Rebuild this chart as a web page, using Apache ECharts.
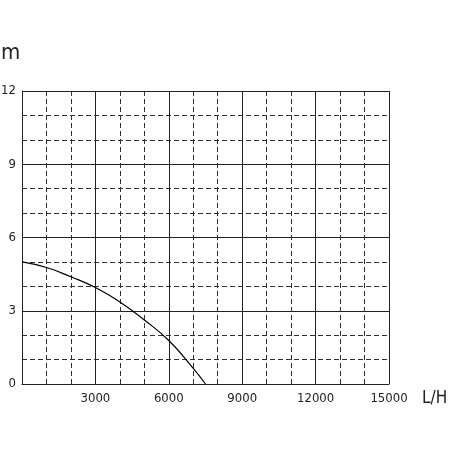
<!DOCTYPE html>
<html>
<head>
<meta charset="utf-8">
<script src="https://cdn.jsdelivr.net/npm/echarts@6/dist/echarts.min.js"></script>
<style>
  html, body { margin: 0; padding: 0; background: #fff; }
  #box { width: 456px; height: 456px; }
</style>
</head>
<body>
<div id="box"></div>
<script>
// flow (L/H) vs head (m)
var flow = [0, 1000, 2000, 3000, 4000, 5000, 6000, 7000, 7500];
var head = [5.0, 4.77, 4.39, 3.95, 3.36, 2.62, 1.78, 0.64, 0];

var chart = echarts.init(document.getElementById("box"));
var font = "'DejaVu Sans Condensed', 'Liberation Sans Narrow', sans-serif";
var solid = { show: true, lineStyle: { color: "#222", width: 1, type: "solid" } };
var dashed = { show: true, lineStyle: { color: "#333", width: 1, type: [5, 3] } };

var option = {
  animation: false,
  grid: { left: 22, right: 67, top: 91, bottom: 72, outerBoundsMode: "none" },
  xAxis: {
    type: "value",
    min: 0,
    max: 15000,
    interval: 3000,
    axisLine: { show: true, onZero: false, lineStyle: { color: "#222" } },
    axisTick: { show: false },
    splitLine: solid,
    minorTick: { show: false, splitNumber: 3 },
    minorSplitLine: dashed,
    axisLabel: {
      color: "#222",
      fontFamily: font,
      fontSize: 13,
      margin: 8,
      formatter: function (v) { return v === 0 ? "" : String(v); }
    }
  },
  yAxis: {
    type: "value",
    min: 0,
    max: 12,
    interval: 3,
    axisLine: { show: true, lineStyle: { color: "#222" } },
    axisTick: { show: false },
    splitLine: solid,
    minorTick: { show: false, splitNumber: 3 },
    minorSplitLine: dashed,
    axisLabel: { color: "#222", fontFamily: font, fontSize: 13, margin: 6 }
  },
  graphic: [
    { type: "text", left: 1, top: 42, style: { text: "m", fill: "#222", font: "22px " + font } },
    { type: "text", left: 422, top: 390, style: { text: "L/H", fill: "#222", font: "17px " + font } }
  ],
  series: [
    {
      type: "line",
      data: flow.map(function (f, i) { return [f, head[i]]; }),
      smooth: 0.5,
      showSymbol: false,
      lineStyle: { color: "#000", width: 1.2 }
    }
  ]
};
chart.setOption(option);
</script>
</body>
</html>
